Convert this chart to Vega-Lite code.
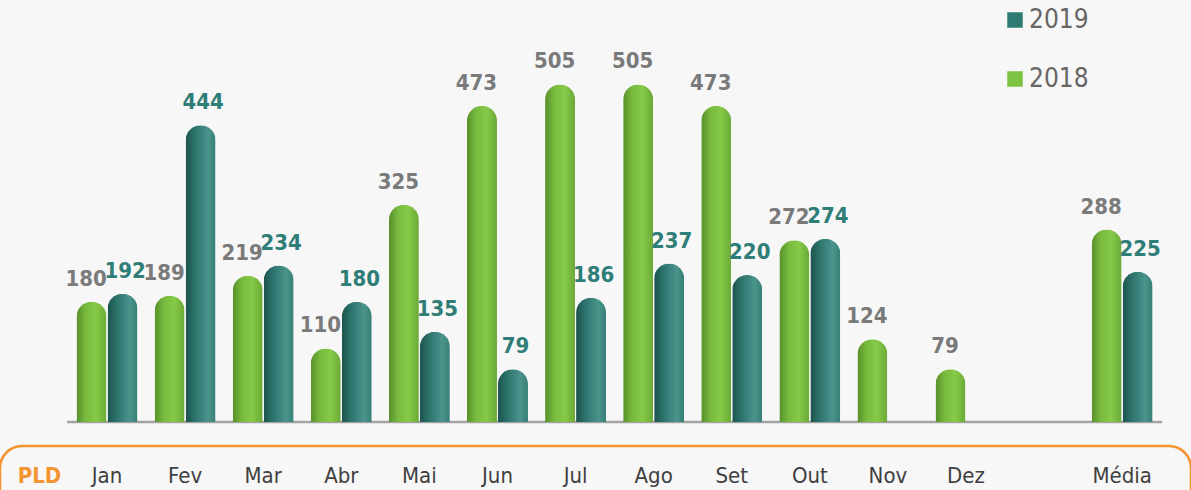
{
  "$schema": "https://vega.github.io/schema/vega-lite/v6.json",
  "width": 1191,
  "height": 401,
  "autosize": {"type": "none"},
  "padding": {"left": 0, "top": 21, "right": 0, "bottom": 68},
  "background": "#f7f7f7",
  "config": {"view": {"stroke": null}, "font": "DejaVu Sans Condensed"},
  "data": {
    "values": [
      {"month": "Jan", "series": "2018", "value": 180},
      {"month": "Jan", "series": "2019", "value": 192},
      {"month": "Fev", "series": "2018", "value": 189},
      {"month": "Fev", "series": "2019", "value": 444},
      {"month": "Mar", "series": "2018", "value": 219},
      {"month": "Mar", "series": "2019", "value": 234},
      {"month": "Abr", "series": "2018", "value": 110},
      {"month": "Abr", "series": "2019", "value": 180},
      {"month": "Mai", "series": "2018", "value": 325},
      {"month": "Mai", "series": "2019", "value": 135},
      {"month": "Jun", "series": "2018", "value": 473},
      {"month": "Jun", "series": "2019", "value": 79},
      {"month": "Jul", "series": "2018", "value": 505},
      {"month": "Jul", "series": "2019", "value": 186},
      {"month": "Ago", "series": "2018", "value": 505},
      {"month": "Ago", "series": "2019", "value": 237},
      {"month": "Set", "series": "2018", "value": 473},
      {"month": "Set", "series": "2019", "value": 220},
      {"month": "Out", "series": "2018", "value": 272},
      {"month": "Out", "series": "2019", "value": 274},
      {"month": "Nov", "series": "2018", "value": 124},
      {"month": "Dez", "series": "2018", "value": 79},
      {"month": "Média", "series": "2018", "value": 288},
      {"month": "Média", "series": "2019", "value": 225}
    ]
  },
  "layer": [
    {
      "data": {"values": [{}]},
      "mark": {"type": "rect", "stroke": "#f39433", "strokeWidth": 2.5, "fill": "#ffffff", "fillOpacity": 0, "cornerRadius": 22},
      "encoding": {
        "y": {"datum": -36, "type": "quantitative", "scale": {"domain": [0, 600]}, "axis": null},
        "y2": {"datum": -170}
      }
    },
    {
      "data": {"values": [{}]},
      "mark": {"type": "rule", "color": "#a3a3a3", "strokeWidth": 2.5, "xOffset": -40, "x2Offset": 40},
      "encoding": {
        "x": {"datum": "Jan", "type": "nominal",
          "scale": {"domain": ["Jan", "Fev", "Mar", "Abr", "Mai", "Jun", "Jul", "Ago", "Set", "Out", "Nov", "Dez", " ", "Média"], "paddingInner": 0, "paddingOuter": 0.626, "align": 0.6955}},
        "x2": {"datum": "Média"},
        "y": {"datum": 0, "type": "quantitative", "scale": {"domain": [0, 600]}, "axis": null}
      }
    },
    {
      "transform": [{"filter": "datum.series == '2018'"}],
      "mark": {"type": "bar", "width": 30, "xOffset": -15.5, "cornerRadiusTopLeft": 15, "cornerRadiusTopRight": 15,
        "color": {"gradient": "linear", "x1": 0, "y1": 0, "x2": 1, "y2": 0,
          "stops": [{"offset": 0, "color": "#578f2a"}, {"offset": 0.3, "color": "#78ba3e"}, {"offset": 0.65, "color": "#86ca48"}, {"offset": 1, "color": "#6aa936"}]}},
      "encoding": {
        "x": {"field": "month", "type": "nominal",
          "scale": {"domain": ["Jan", "Fev", "Mar", "Abr", "Mai", "Jun", "Jul", "Ago", "Set", "Out", "Nov", "Dez", " ", "Média"], "paddingInner": 0, "paddingOuter": 0.626, "align": 0.6955},
          "axis": {"title": "PLD", "titleColor": "#f39433", "titleFontWeight": "bold", "titleFontSize": 22, "titleFont": "DejaVu Sans Condensed",
            "titleX": 39, "titleY": 60, "titleAlign": "center", "titleBaseline": "alphabetic", "titleAnchor": null, "titleAngle": 0,
            "domain": false, "ticks": false, "tickSize": 0, "grid": false, "labelAngle": 0, "labelAlign": "center", "labelPadding": 60, "labelBaseline": "alphabetic",
            "labelFontSize": 22, "labelColor": "#404040", "labelFont": "DejaVu Sans Condensed"}},
        "y": {"field": "value", "type": "quantitative", "scale": {"domain": [0, 600]}, "axis": null}
      }
    },
    {
      "transform": [{"filter": "datum.series == '2019'"}],
      "mark": {"type": "bar", "width": 30, "xOffset": 15.5, "cornerRadiusTopLeft": 15, "cornerRadiusTopRight": 15,
        "color": {"gradient": "linear", "x1": 0, "y1": 0, "x2": 1, "y2": 0,
          "stops": [{"offset": 0, "color": "#1c524c"}, {"offset": 0.3, "color": "#2c736c"}, {"offset": 0.75, "color": "#4a948c"}, {"offset": 1, "color": "#357f77"}]}},
      "encoding": {
        "x": {"field": "month", "type": "nominal",
          "scale": {"domain": ["Jan", "Fev", "Mar", "Abr", "Mai", "Jun", "Jul", "Ago", "Set", "Out", "Nov", "Dez", " ", "Média"], "paddingInner": 0, "paddingOuter": 0.626, "align": 0.6955}},
        "y": {"field": "value", "type": "quantitative", "scale": {"domain": [0, 600]}, "axis": null}
      }
    },
    {
      "transform": [{"filter": "datum.series == '2018'"}],
      "mark": {"type": "text", "xOffset": -21, "dy": -16, "baseline": "alphabetic", "fontSize": 22, "fontWeight": "bold", "color": "#7a7a7a", "font": "DejaVu Sans Condensed"},
      "encoding": {
        "x": {"field": "month", "type": "nominal",
          "scale": {"domain": ["Jan", "Fev", "Mar", "Abr", "Mai", "Jun", "Jul", "Ago", "Set", "Out", "Nov", "Dez", " ", "Média"], "paddingInner": 0, "paddingOuter": 0.626, "align": 0.6955}},
        "y": {"field": "value", "type": "quantitative", "scale": {"domain": [0, 600]}, "axis": null},
        "text": {"field": "value", "type": "quantitative"}
      }
    },
    {
      "transform": [{"filter": "datum.series == '2019'"}],
      "mark": {"type": "text", "xOffset": 18, "dy": -16, "baseline": "alphabetic", "fontSize": 22, "fontWeight": "bold", "color": "#2e7d76", "font": "DejaVu Sans Condensed"},
      "encoding": {
        "x": {"field": "month", "type": "nominal",
          "scale": {"domain": ["Jan", "Fev", "Mar", "Abr", "Mai", "Jun", "Jul", "Ago", "Set", "Out", "Nov", "Dez", " ", "Média"], "paddingInner": 0, "paddingOuter": 0.626, "align": 0.6955}},
        "y": {"field": "value", "type": "quantitative", "scale": {"domain": [0, 600]}, "axis": null},
        "text": {"field": "value", "type": "quantitative"}
      }
    },
    {
      "mark": {"type": "square", "opacity": 0},
      "encoding": {
        "x": {"field": "month", "type": "nominal",
          "scale": {"domain": ["Jan", "Fev", "Mar", "Abr", "Mai", "Jun", "Jul", "Ago", "Set", "Out", "Nov", "Dez", " ", "Média"], "paddingInner": 0, "paddingOuter": 0.626, "align": 0.6955}},
        "y": {"field": "value", "type": "quantitative", "scale": {"domain": [0, 600]}, "axis": null},
        "color": {"field": "series", "type": "nominal",
          "scale": {"domain": ["2019", "2018"], "range": ["#2f7a73", "#7dc242"]},
          "legend": {"orient": "none", "legendX": 1002, "legendY": -14, "title": null, "direction": "vertical",
            "symbolType": "square", "symbolSize": 240, "symbolOpacity": 1, "symbolStrokeWidth": 0,
            "labelFontSize": 26, "labelColor": "#666666", "labelFont": "DejaVu Sans Condensed", "rowPadding": 33, "labelOffset": 1}}
      }
    }
  ]
}
